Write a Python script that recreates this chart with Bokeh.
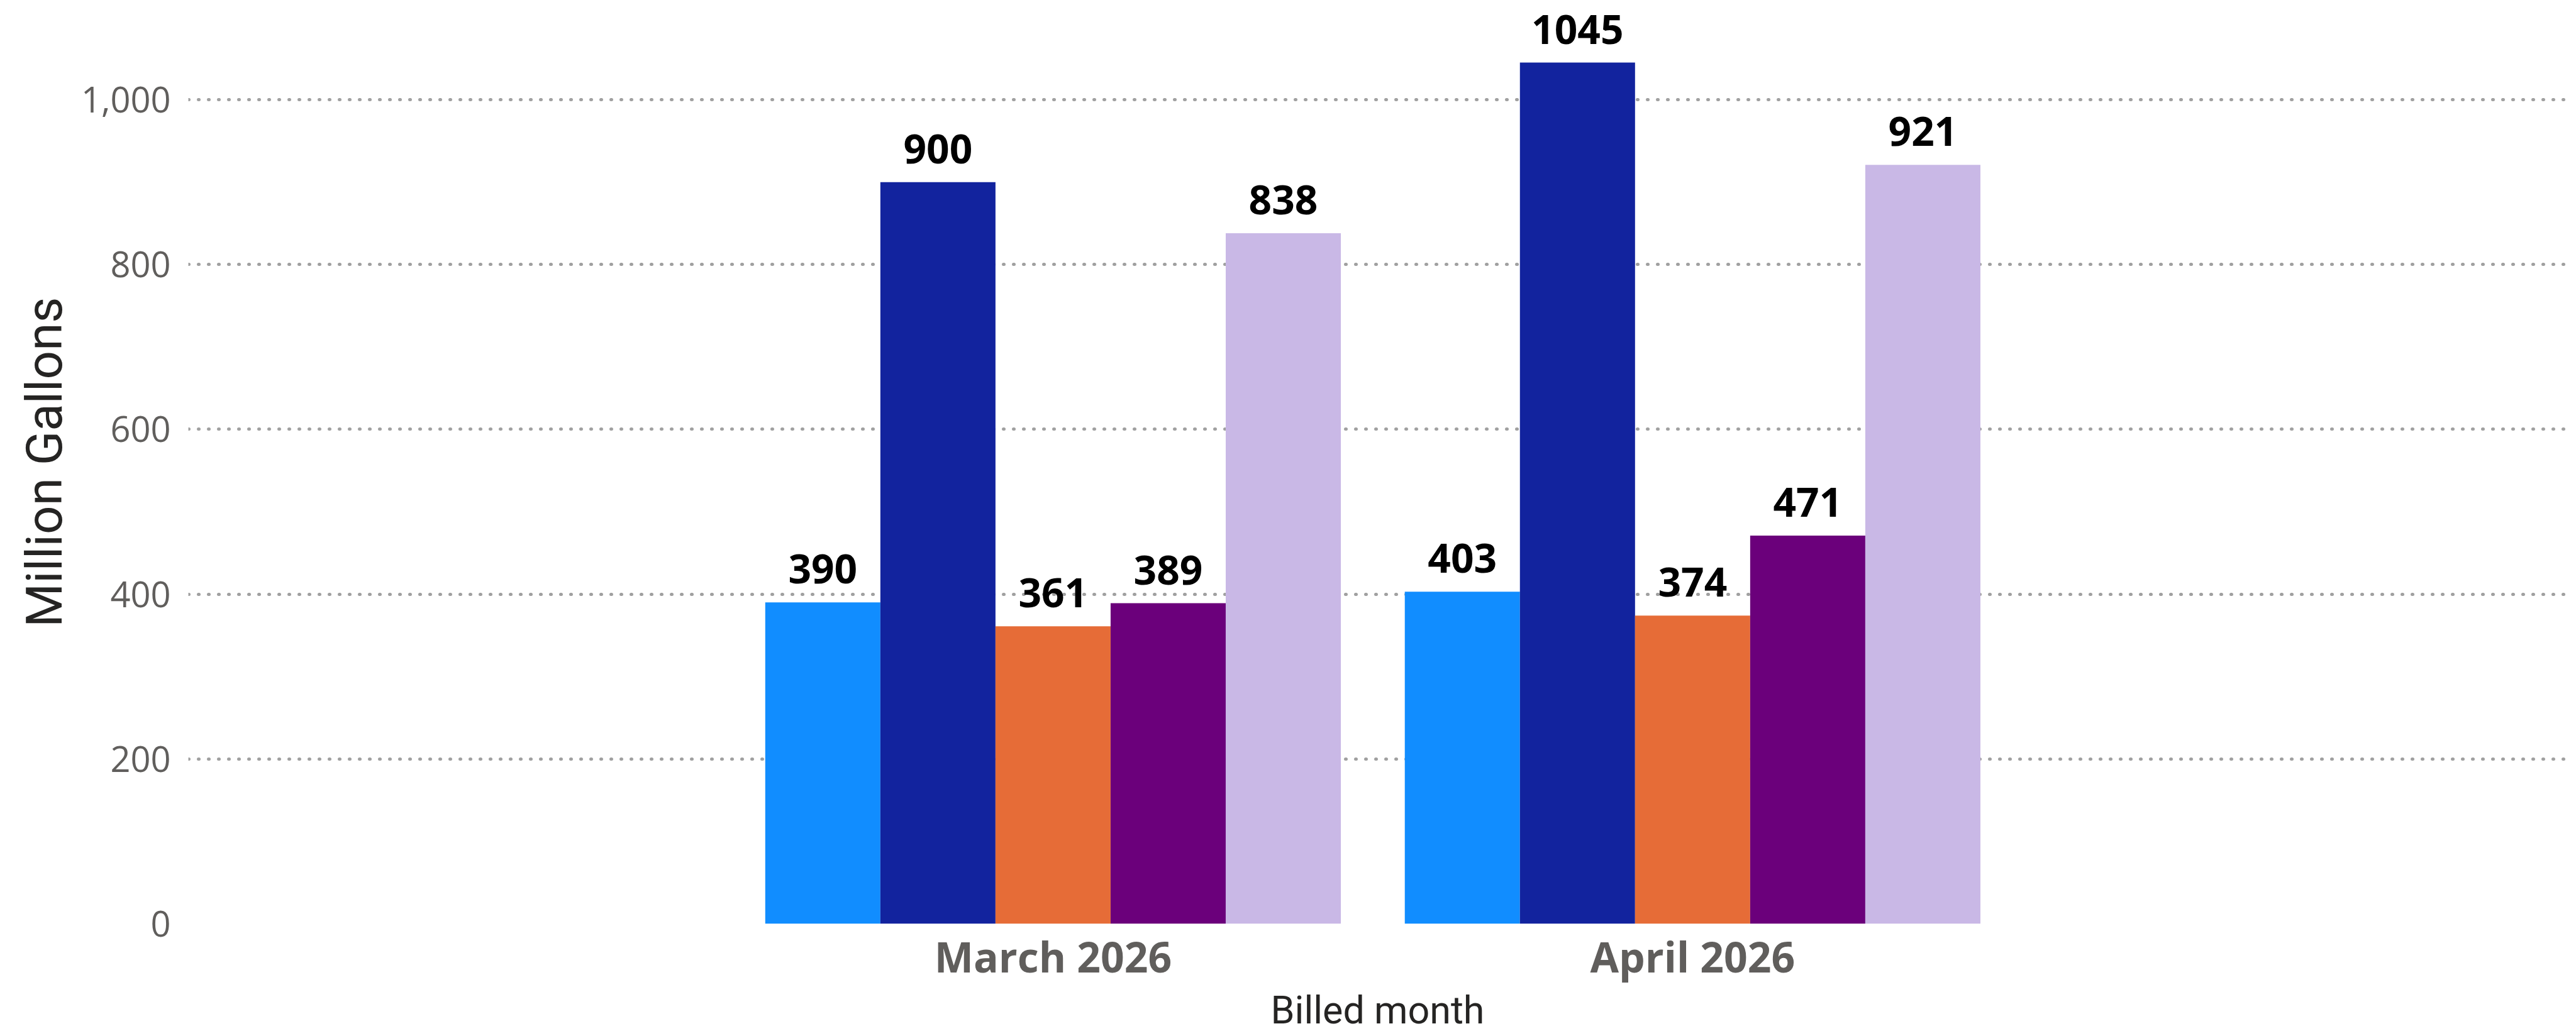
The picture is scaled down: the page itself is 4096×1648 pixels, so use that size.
from bokeh.plotting import figure
from bokeh.models import ColumnDataSource, Range1d, FixedTicker, NumeralTickFormatter, LabelSet, Title
from bokeh.core.properties import value
from bokeh.transform import dodge
from bokeh.embed import file_html
from bokeh.resources import INLINE

# ---- data ----
months = ["March 2026", "April 2026"]
series_names = ["Series 1", "Series 2", "Series 3", "Series 4", "Series 5"]
series_1 = [390, 403]
series_2 = [900, 1045]
series_3 = [361, 374]
series_4 = [389, 471]
series_5 = [838, 921]
y_ticks = [0, 200, 400, 600, 800, 1000]

series_values = [series_1, series_2, series_3, series_4, series_5]
colors = ["#118DFF", "#12239E", "#E66C37", "#6B007B", "#C9B8E6"]

x_start, x_end = -1.352, 2.367
p = figure(width=4096, height=1648, output_backend="svg", toolbar_location=None,
           x_range=Range1d(x_start, x_end), y_range=Range1d(0, 1120.6),
           min_border_left=299, min_border_right=15, min_border_top=0,
           min_border_bottom=179)
p.outline_line_color = None
p.background_fill_color = "white"
p.border_fill_color = "white"

# grid
p.xgrid.grid_line_color = None
p.ygrid.grid_line_color = "#A0A0A0"
p.ygrid.grid_line_width = 5
p.ygrid.grid_line_dash = "1 15"
p.ygrid.grid_line_cap = "round"

# y axis
p.yaxis.ticker = FixedTicker(ticks=y_ticks)
p.yaxis.formatter = NumeralTickFormatter(format="0,0")
p.yaxis.axis_line_color = None
p.yaxis.major_tick_line_color = None
p.yaxis.minor_tick_line_color = None
p.yaxis.major_tick_out = 0
p.yaxis.major_tick_in = 0
p.yaxis.major_label_standoff = 28
p.yaxis.major_label_text_font = "Open Sans"
p.yaxis.major_label_text_font_size = "56px"
p.yaxis.major_label_text_color = "#605E5C"
p.yaxis.axis_label = "Million Gallons"
p.yaxis.axis_label_text_font = "Roboto"
p.yaxis.axis_label_text_font_size = "80px"
p.yaxis.axis_label_text_font_style = "normal"
p.yaxis.axis_label_text_color = "#252423"
p.yaxis.axis_label_standoff = 8

# x axis
p.xaxis.ticker = FixedTicker(ticks=list(range(len(months))))
p.xaxis.major_label_overrides = {i: m for i, m in enumerate(months)}
p.xaxis.axis_line_color = None
p.xaxis.major_tick_line_color = None
p.xaxis.minor_tick_line_color = None
p.xaxis.major_tick_out = 0
p.xaxis.major_tick_in = 0
p.xaxis.major_label_standoff = 6
p.xaxis.major_label_text_font = "Open Sans"
p.xaxis.major_label_text_font_size = "66px"
p.xaxis.major_label_text_font_style = "bold"
p.xaxis.major_label_text_color = "#605E5C"

# x axis title, below the tick labels
p.add_layout(Title(text="Billed month", align="center", text_font="Roboto",
                   text_font_size="61px", text_font_style="normal",
                   text_color="#252423", standoff=0, offset=0), "below")

n = len(series_values)
bar_w = 0.18
for j, (name, vals, col) in enumerate(zip(series_names, series_values, colors)):
    off = (j - (n - 1) / 2) * bar_w
    src = ColumnDataSource(dict(x=list(range(len(months))), y=vals,
                                label=[str(v) for v in vals]))
    p.vbar(x=dodge("x", off, range=p.x_range), top="y", width=bar_w, source=src,
           fill_color=col, line_color=None, name=name)
    labels = LabelSet(x=dodge("x", off, range=p.x_range), y="y", text="label", source=src,
                      text_align="center", text_baseline="alphabetic", y_offset=30,
                      text_font=value("Open Sans"), text_font_size="64px",
                      text_font_style="bold", text_color="black")
    p.add_layout(labels)

open("out.html", "w").write(file_html(p, INLINE))
